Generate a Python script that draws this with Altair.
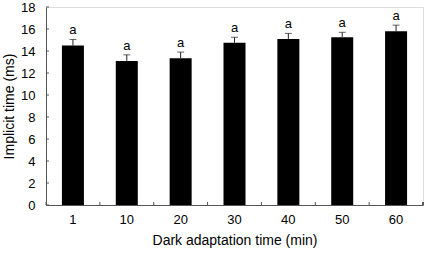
import altair as alt
import pandas as pd

cats = ["1", "10", "20", "30", "40", "50", "60"]
means = [14.5, 13.1, 13.35, 14.75, 15.1, 15.25, 15.8]
errs = [0.55, 0.55, 0.55, 0.5, 0.5, 0.45, 0.55]
letters = ["a", "a", "a", "a", "a", "a", "a"]
yticks = [0, 2, 4, 6, 8, 10, 12, 14, 16, 18]

df = pd.DataFrame({"cat": cats, "mean": means, "err": errs, "lab": letters})
df["top"] = df["mean"] + df["err"]
tdf = pd.DataFrame({"v": yticks})

FONT = "Liberation Sans"
AX = "#555555"

xscale = alt.Scale(domain=cats, paddingInner=0, paddingOuter=0)
yscale = alt.Scale(domain=[0, 18], nice=False)

xaxis = alt.Axis(title="Dark adaptation time (min)", labelAngle=0, ticks=False,
                 domainColor=AX, labelFont=FONT, titleFont=FONT, labelFontSize=13,
                 titleFontSize=14, labelColor="black", titleColor="black",
                 titleFontWeight="normal", labelPadding=8, titlePadding=7)
yaxis = alt.Axis(title="Implicit time (ms)", values=yticks, ticks=False, grid=False,
                 labelOverlap=False, labelBound=False,
                 domainColor=AX, labelFont=FONT, titleFont=FONT, labelFontSize=13,
                 titleFontSize=14, labelColor="black", titleColor="black",
                 titleFontWeight="normal", labelPadding=11, titlePadding=4)

X = alt.X("cat:N", scale=xscale, sort=cats, axis=xaxis)

base = alt.Chart(df)

bars = base.mark_bar(color="black", size=22).encode(
    x=X,
    y=alt.Y("mean:Q", scale=yscale, axis=yaxis),
)
err_rule = base.mark_rule(color="#222222", strokeWidth=1).encode(
    x=X,
    y=alt.Y("mean:Q", scale=yscale, axis=yaxis),
    y2="top:Q",
)
caps = base.mark_tick(color="#222222", size=7, thickness=1, orient="horizontal").encode(
    x=X,
    y=alt.Y("top:Q", scale=yscale, axis=yaxis),
)
labels = base.mark_text(font=FONT, fontSize=13, baseline="bottom", dy=-2, color="black").encode(
    x=X,
    y=alt.Y("top:Q", scale=yscale, axis=yaxis),
    text="lab:N",
)
xticks = base.mark_rule(color=AX, strokeWidth=1).encode(
    x=alt.X("cat:N", scale=xscale, sort=cats, bandPosition=0, axis=xaxis),
    y=alt.value(198),
    y2=alt.value(195),
)
xlast = base.mark_rule(color=AX, strokeWidth=1).encode(
    x=alt.value(377), y=alt.value(198), y2=alt.value(195)
)
yt = alt.Chart(tdf).mark_rule(color=AX, strokeWidth=1).encode(
    y=alt.Y("v:Q", scale=yscale, axis=yaxis),
    x=alt.value(0),
    x2=alt.value(3),
)

chart = alt.layer(bars, err_rule, caps, labels, xticks, xlast, yt).properties(
    width=377, height=198,
    autosize=alt.AutoSizeParams(type="none"),
    padding={"left": 46, "top": 7, "right": 2, "bottom": 48},
).configure_view(stroke=None).configure_axis(labelOverlap=False).configure(background="white")

chart.save("out.html", embed_options={"renderer": "svg", "actions": False})
